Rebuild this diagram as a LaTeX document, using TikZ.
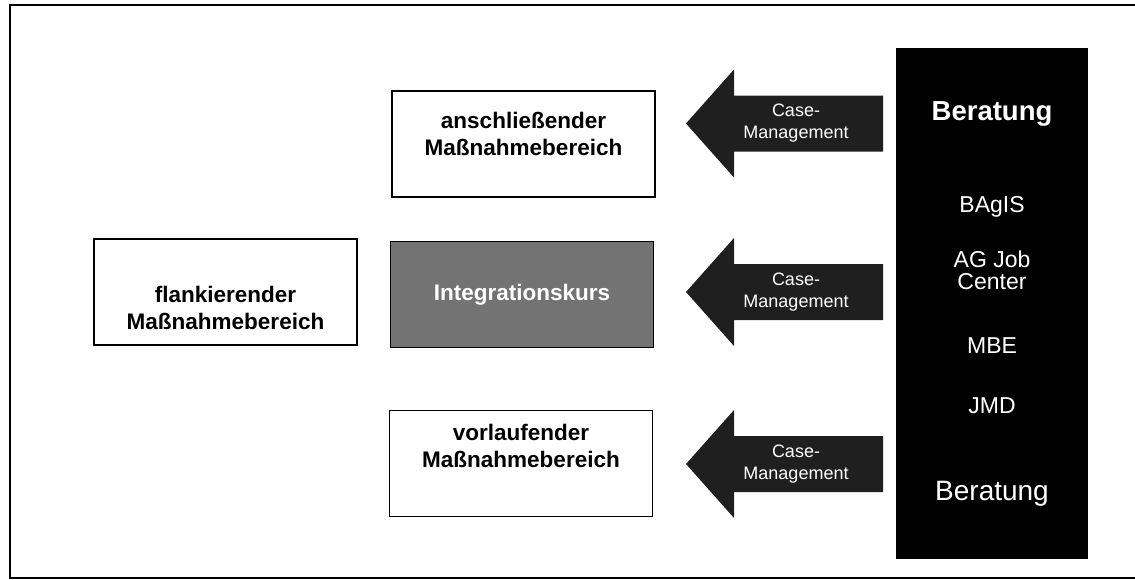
\documentclass[tikz,border=0pt]{standalone}
\usepackage{fontspec}
\setmainfont{Liberation Sans}
\pgfmathsetmacro{\tipx}{686}
\pgfmathsetmacro{\headx}{734}
\pgfmathsetmacro{\tailx}{883}
\pgfmathsetmacro{\headhalf}{54}
\pgfmathsetmacro{\shafthalf}{28}
\tikzset{
  massbox/.style={draw, line width=1.5pt, fill=white, minimum width=263pt, minimum height=106pt},
  kursbox/.style={massbox, fill=black!55},
  boxtext/.style={align=center, font=\bfseries\fontsize{22.5}{27}\selectfont},
  cmlabel/.style={align=center, text=white, font=\fontsize{18}{22}\selectfont},
  colitem/.style={text=white, anchor=base, font=\fontsize{23}{22}\selectfont},
  arrowfill/.style={fill=black!88},
}
\begin{document}
\begin{tikzpicture}[x=1pt, y=-1pt]
    \useasboundingbox (0,0) rectangle (1135,579);
    % frame
    \draw[line width=1.5pt] (1135,5) -- (10,5) -- (10,578) -- (1135,578);
    % boxes
    \node[massbox] (anschl) at (523.5,144) {};
    \node[kursbox] (integ) at (522,294.5) {};
    \node[massbox] (flank) at (225.5,292) {};
    \node[massbox] (vorl) at (521,463.5) {};
    % box texts
    \node[boxtext] (anschl_t) at (523.5,134) {anschließender\\Maßnahmebereich};
    \node[boxtext, text=white] (integ_t) at (522,295) {Integrationskurs};
    \node[boxtext] (flank_t) at (225.5,308) {flankierender\\Maßnahmebereich};
    \node[boxtext] (vorl_t) at (521,446) {vorlaufender\\Maßnahmebereich};
    % counselling column
    \node[fill=black, minimum width=192pt, minimum height=511pt, inner sep=0pt] (berat) at (992,303.5) {};
    \node[colitem, font=\bfseries\fontsize{27.5}{30}\selectfont] (berat_top) at (992,120) {Beratung};
    \node[colitem] (bagis) at (992,212) {BAgIS};
    \node[colitem, anchor=center, align=center] (jobcenter) at (992,270) {AG Job\\Center};
    \node[colitem] (mbe) at (992,353) {MBE};
    \node[colitem] (jmd) at (992,413) {JMD};
    \node[colitem, font=\fontsize{28}{30}\selectfont] (berat_bot) at (992,500) {Beratung};
    % case management arrows
    \foreach \ay/\nm in {123.5/top, 292/mid, 464/bot}{
        \fill[arrowfill] (\tipx,\ay) -- (\headx,\ay-\headhalf) -- (\headx,\ay-\shafthalf)
            -- (\tailx,\ay-\shafthalf) -- (\tailx,\ay+\shafthalf) -- (\headx,\ay+\shafthalf)
            -- (\headx,\ay+\headhalf) -- cycle;
        \node[cmlabel] (cm_\nm) at (796,\ay) {Case-\\Management};
    }
\end{tikzpicture}
\end{document}
